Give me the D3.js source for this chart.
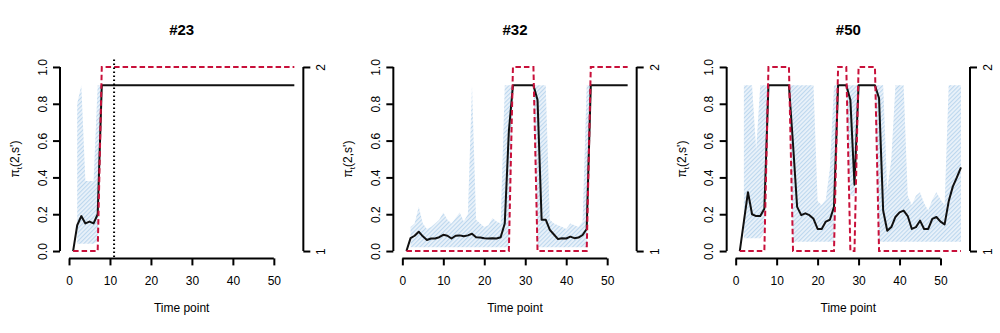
<!DOCTYPE html>
<html>
<head>
<meta charset="utf-8">
<script src="https://cdn.jsdelivr.net/npm/d3@7"></script>
<style>
  body { margin: 0; background: #fff; }
  svg text { font-family: "Liberation Sans", Arial, sans-serif; fill: #000; }
</style>
</head>
<body>
<div class="chart"></div>
<script>
// time index and axis ticks
const timePoints = d3.range(1, 56);
const xTicks = [0, 10, 20, 30, 40, 50];
const yTicks = [0, 0.2, 0.4, 0.6, 0.8, 1.0];
const stateTicks = [1, 2];
const titles = ['#23', '#32', '#50'];
const dottedLines = [11, null, null];

// #23
const post23 = [0, 0.14, 0.19, 0.15, 0.16, 0.15, 0.2, 0.9, 0.9, 0.9,
  0.9, 0.9, 0.9, 0.9, 0.9, 0.9, 0.9, 0.9, 0.9, 0.9,
  0.9, 0.9, 0.9, 0.9, 0.9, 0.9, 0.9, 0.9, 0.9, 0.9,
  0.9, 0.9, 0.9, 0.9, 0.9, 0.9, 0.9, 0.9, 0.9, 0.9,
  0.9, 0.9, 0.9, 0.9, 0.9, 0.9, 0.9, 0.9, 0.9, 0.9,
  0.9, 0.9, 0.9, 0.9, 0.9];
const lo23 = [null, 0.04, 0.04, 0.04, 0.04, 0.04, 0.05, 0.9, 0.9, 0.9,
  0.9, 0.9, 0.9, 0.9, 0.9, 0.9, 0.9, 0.9, 0.9, 0.9,
  0.9, 0.9, 0.9, 0.9, 0.9, 0.9, 0.9, 0.9, 0.9, 0.9,
  0.9, 0.9, 0.9, 0.9, 0.9, 0.9, 0.9, 0.9, 0.9, 0.9,
  0.9, 0.9, 0.9, 0.9, 0.9, 0.9, 0.9, 0.9, 0.9, 0.9,
  0.9, 0.9, 0.9, 0.9, 0.9];
const hi23 = [null, 0.8, 0.9, 0.38, 0.38, 0.38, 0.9, 0.9, 0.9, 0.9,
  0.9, 0.9, 0.9, 0.9, 0.9, 0.9, 0.9, 0.9, 0.9, 0.9,
  0.9, 0.9, 0.9, 0.9, 0.9, 0.9, 0.9, 0.9, 0.9, 0.9,
  0.9, 0.9, 0.9, 0.9, 0.9, 0.9, 0.9, 0.9, 0.9, 0.9,
  0.9, 0.9, 0.9, 0.9, 0.9, 0.9, 0.9, 0.9, 0.9, 0.9,
  0.9, 0.9, 0.9, 0.9, 0.9];
const state23 = [1, 1, 1, 1, 1, 1, 1, 2, 2, 2,
  2, 2, 2, 2, 2, 2, 2, 2, 2, 2,
  2, 2, 2, 2, 2, 2, 2, 2, 2, 2,
  2, 2, 2, 2, 2, 2, 2, 2, 2, 2,
  2, 2, 2, 2, 2, 2, 2, 2, 2, 2,
  2, 2, 2, 2, 2];

// #32
const post32 = [0, 0.07, 0.083, 0.105, 0.08, 0.06, 0.068, 0.068, 0.075, 0.088,
  0.083, 0.068, 0.083, 0.085, 0.08, 0.085, 0.094, 0.075, 0.073, 0.07,
  0.068, 0.07, 0.068, 0.075, 0.15, 0.65, 0.9, 0.9, 0.9, 0.9,
  0.9, 0.9, 0.82, 0.17, 0.17, 0.115, 0.09, 0.065, 0.07, 0.068,
  0.078, 0.07, 0.073, 0.087, 0.12, 0.9, 0.9, 0.9, 0.9, 0.9,
  0.9, 0.9, 0.9, 0.9, 0.9];
const lo32 = [null, 0.02, 0.02, 0.02, 0.02, 0.02, 0.02, 0.02, 0.02, 0.02,
  0.02, 0.02, 0.02, 0.02, 0.02, 0.02, 0.02, 0.02, 0.02, 0.02,
  0.02, 0.02, 0.02, 0.02, 0.02, 0.02, 0.9, 0.9, 0.9, 0.9,
  0.9, 0.9, 0.02, 0.02, 0.02, 0.02, 0.02, 0.02, 0.02, 0.02,
  0.02, 0.02, 0.02, 0.02, 0.02, 0.9, 0.9, 0.9, 0.9, 0.9,
  0.9, 0.9, 0.9, 0.9, 0.9];
const hi32 = [null, 0.13, 0.15, 0.24, 0.15, 0.12, 0.13, 0.15, 0.17, 0.21,
  0.17, 0.15, 0.18, 0.21, 0.16, 0.2, 0.9, 0.17, 0.15, 0.13,
  0.14, 0.18, 0.16, 0.15, 0.9, 0.9, 0.9, 0.9, 0.9, 0.9,
  0.9, 0.9, 0.9, 0.9, 0.9, 0.17, 0.15, 0.14, 0.13, 0.12,
  0.15, 0.14, 0.13, 0.16, 0.9, 0.9, 0.9, 0.9, 0.9, 0.9,
  0.9, 0.9, 0.9, 0.9, 0.9];
const state32 = [1, 1, 1, 1, 1, 1, 1, 1, 1, 1,
  1, 1, 1, 1, 1, 1, 1, 1, 1, 1,
  1, 1, 1, 1, 1, 1, 2, 2, 2, 2,
  2, 2, 1, 1, 1, 1, 1, 1, 1, 1,
  1, 1, 1, 1, 1, 2, 2, 2, 2, 2,
  2, 2, 2, 2, 2];

// #50
const post50 = [0, 0.16, 0.32, 0.2, 0.19, 0.19, 0.23, 0.9, 0.9, 0.9,
  0.9, 0.9, 0.9, 0.58, 0.24, 0.195, 0.205, 0.195, 0.175, 0.12,
  0.12, 0.16, 0.17, 0.24, 0.9, 0.9, 0.9, 0.82, 0.36, 0.9,
  0.9, 0.9, 0.9, 0.9, 0.83, 0.22, 0.11, 0.13, 0.185, 0.21,
  0.22, 0.19, 0.12, 0.13, 0.165, 0.12, 0.12, 0.175, 0.185, 0.16,
  0.145, 0.27, 0.35, 0.4, 0.455];
const lo50 = [null, 0.07, 0.07, 0.07, 0.07, 0.07, 0.1, 0.9, 0.9, 0.9,
  0.9, 0.9, 0.9, 0.05, 0.05, 0.05, 0.05, 0.05, 0.05, 0.05,
  0.05, 0.05, 0.05, 0.05, 0.9, 0.9, 0.9, 0.3, 0.3, 0.9,
  0.9, 0.9, 0.9, 0.9, 0.05, 0.05, 0.05, 0.05, 0.05, 0.05,
  0.05, 0.05, 0.05, 0.05, 0.05, 0.05, 0.05, 0.05, 0.05, 0.05,
  0.05, 0.05, 0.05, 0.05, 0.05];
const hi50 = [null, 0.9, 0.9, 0.9, 0.55, 0.9, 0.9, 0.9, 0.9, 0.9,
  0.9, 0.9, 0.9, 0.9, 0.9, 0.9, 0.9, 0.9, 0.9, 0.27,
  0.25, 0.28, 0.45, 0.9, 0.9, 0.9, 0.9, 0.9, 0.9, 0.9,
  0.9, 0.9, 0.9, 0.9, 0.9, 0.9, 0.33, 0.5, 0.9, 0.9,
  0.9, 0.3, 0.25, 0.3, 0.32, 0.26, 0.22, 0.28, 0.32, 0.28,
  0.25, 0.9, 0.9, 0.9, 0.9];
const state50 = [1, 1, 1, 1, 1, 1, 1, 2, 2, 2,
  2, 2, 2, 1, 1, 1, 1, 1, 1, 1,
  1, 1, 1, 1, 2, 2, 2, 1, 1, 2,
  2, 2, 2, 2, 1, 1, 1, 1, 1, 1,
  1, 1, 1, 1, 1, 1, 1, 1, 1, 1,
  1, 1, 1, 1, 1];

const panels = [
  {post: post23, lo: lo23, hi: hi23, state: state23},
  {post: post32, lo: lo32, hi: hi32, state: state32},
  {post: post50, lo: lo50, hi: hi50, state: state50}
];

const width = 1000, height = 333;
const panelW = width / 3;
const plotTop = 59.6, plotBottom = 258.4;
const red = '#c8103a';

const svg = d3.select('.chart').append('svg')
  .attr('width', width)
  .attr('height', height);

// hatch pattern for the interval band
const pat = svg.append('defs').append('pattern')
  .attr('id', 'hatch')
  .attr('patternUnits', 'userSpaceOnUse')
  .attr('width', 3)
  .attr('height', 3)
  .attr('patternTransform', 'rotate(45)');
pat.append('rect')
  .attr('width', 3).attr('height', 3)
  .style('fill', '#eaf2fa');
pat.append('line')
  .attr('x1', 0.5).attr('x2', 0.5)
  .attr('y1', 0).attr('y2', 3)
  .style('stroke', '#bcd7ee')
  .style('stroke-width', 1.2);

panels.forEach((p, i) => {
  const ox = i * panelW;
  const g = svg.append('g');

  const x = d3.scaleLinear().domain([-2.2, 57.2]).range([ox + 60, ox + panelW - 30]);
  const y = d3.scaleLinear().domain([-0.04, 1.04]).range([plotBottom, plotTop]);
  const yState = d3.scaleLinear().domain([1, 2]).range([y(0), y(1)]);

  const rows = timePoints.map((t, k) => ({t: t, post: p.post[k], lo: p.lo[k], hi: p.hi[k], state: p.state[k]}));

  // interval band
  g.append('path')
    .datum(rows)
    .attr('d', d3.area()
      .defined(d => d.lo != null)
      .x(d => x(d.t))
      .y0(d => y(d.lo))
      .y1(d => y(d.hi)))
    .style('fill', 'url(#hatch)')
    .style('stroke', 'none');

  // posterior line
  g.append('path')
    .datum(rows)
    .attr('d', d3.line().x(d => x(d.t)).y(d => y(d.post)))
    .style('fill', 'none')
    .style('stroke', '#111')
    .style('stroke-width', 2)
    .style('stroke-linejoin', 'round');

  // true state, dashed
  g.append('path')
    .datum(rows)
    .attr('d', d3.line().x(d => x(d.t)).y(d => yState(d.state)))
    .style('fill', 'none')
    .style('stroke', red)
    .style('stroke-width', 2)
    .style('stroke-dasharray', '5.5,3');

  if (dottedLines[i] != null) {
    g.append('line')
      .attr('x1', x(dottedLines[i])).attr('x2', x(dottedLines[i]))
      .attr('y1', plotTop).attr('y2', plotBottom)
      .style('stroke', '#000')
      .style('stroke-width', 2)
      .style('stroke-dasharray', '1.5,2.5');
  }

  // bottom axis
  const xa = g.append('g')
    .attr('transform', `translate(0,${plotBottom})`)
    .call(d3.axisBottom(x).tickValues(xTicks).tickSize(7).tickSizeOuter(0));
  xa.select('.domain').remove();
  xa.append('line')
    .attr('x1', x(xTicks[0])).attr('x2', x(xTicks[xTicks.length - 1]));
  xa.selectAll('line').style('stroke', '#000').style('stroke-width', 2);
  xa.selectAll('text')
    .attr('y', 27).attr('dy', 0)
    .style('font-size', '12px');

  // left axis
  const ya = g.append('g')
    .attr('transform', `translate(${ox + 60},0)`)
    .call(d3.axisLeft(y).tickValues(yTicks).tickFormat(d3.format('.1f')).tickSize(7).tickSizeOuter(0));
  ya.select('.domain').remove();
  ya.append('line')
    .attr('y1', y(0)).attr('y2', y(1));
  ya.selectAll('line').style('stroke', '#000').style('stroke-width', 2);
  ya.selectAll('text')
    .attr('x', 0).attr('y', -13.5).attr('dy', 0)
    .attr('transform', 'rotate(-90)')
    .style('text-anchor', 'middle')
    .style('font-size', '12px');

  // right axis, state 1/2
  const ra = g.append('g')
    .attr('transform', `translate(${ox + panelW - 30},0)`)
    .call(d3.axisRight(yState).tickValues(stateTicks).tickFormat(d3.format('d')).tickSize(7).tickSizeOuter(0));
  ra.select('.domain').remove();
  ra.append('line')
    .attr('y1', yState(1)).attr('y2', yState(2));
  ra.selectAll('line').style('stroke', '#000').style('stroke-width', 2);
  ra.selectAll('text')
    .attr('x', 0).attr('y', 22).attr('dy', 0)
    .attr('transform', 'rotate(-90)')
    .style('text-anchor', 'middle')
    .style('font-size', '12px');

  // titles and labels
  const cx = (x.range()[0] + x.range()[1]) / 2;
  g.append('text')
    .attr('x', cx).attr('y', 35)
    .attr('text-anchor', 'middle')
    .style('font-size', '15px')
    .style('font-weight', 'bold')
    .text(titles[i]);

  g.append('text')
    .attr('x', cx).attr('y', 312)
    .attr('text-anchor', 'middle')
    .style('font-size', '12px')
    .text('Time point');

  const yl = g.append('text')
    .attr('transform', `translate(${ox + 19},${(plotTop + plotBottom) / 2}) rotate(-90)`)
    .attr('text-anchor', 'middle')
    .style('font-size', '12px');
  yl.append('tspan').text('π');
  yl.append('tspan').attr('dy', 3).style('font-size', '8px').text('t');
  yl.append('tspan').attr('dy', -3).text("(2,s')");
});
</script>
</body>
</html>
